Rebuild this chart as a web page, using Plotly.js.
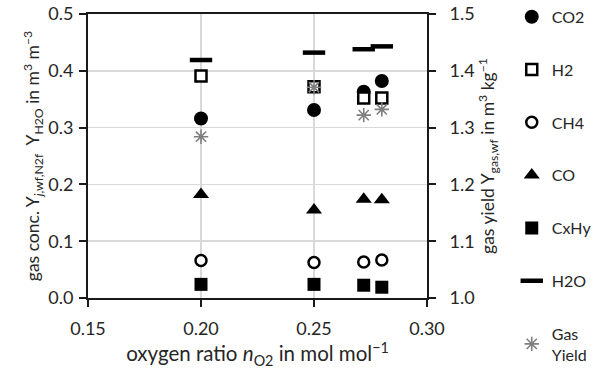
<!DOCTYPE html>
<html>
<head>
<meta charset="utf-8">
<script src="https://cdn.plot.ly/plotly-3.0.1.min.js"></script>
<style>html,body{margin:0;padding:0;background:#fff;}#chart{width:592px;height:376px;}</style>
</head>
<body>
<div id="chart"></div>
<script>
// oxygen ratio n_O2 (mol/mol)
const oxygenRatio = [0.20, 0.25, 0.272, 0.280];
// gas concentrations (m3/m3), left axis
const co2  = [0.316, 0.331, 0.363, 0.382];
const h2   = [0.391, 0.372, 0.352, 0.352];
const ch4  = [0.066, 0.0625, 0.0635, 0.067];
const co   = [0.182, 0.155, 0.174, 0.173];
const cxhy = [0.024, 0.024, 0.0225, 0.019];
const h2o  = [0.419, 0.432, 0.438, 0.443];
// gas yield (m3/kg), right axis
const gasYield = [1.284, 1.371, 1.322, 1.332];

const seriesNames = ['CO2', 'H2', 'CH4', 'CO', 'CxHy', 'H2O', 'Gas<br>Yield'];

const FONT = 'Lato, "Open Sans", sans-serif';
const TXT = '#262626';

function tr(name, y, marker, yaxis) {
  return {
    type: 'scatter', mode: 'markers', name: name, legendgroup: name,
    x: oxygenRatio, y: y, yaxis: yaxis || 'y', marker: marker,
    hoverinfo: 'x+y'
  };
}

const data = [
  tr(seriesNames[0], co2,  {symbol: 'circle', size: 14, color: '#000', line: {width: 0}}),
  tr(seriesNames[1], h2,   {symbol: 'square', size: 11, color: '#fff', line: {width: 2.5, color: '#000'}}),
  tr(seriesNames[2], ch4,  {symbol: 'circle', size: 11, color: '#fff', line: {width: 2.5, color: '#000'}}),
  tr(seriesNames[3], co,   {symbol: 'triangle-up', size: 14, color: '#000', line: {width: 0}}),
  tr(seriesNames[4], cxhy, {symbol: 'square', size: 13, color: '#000', line: {width: 0}}),
  tr(seriesNames[5], h2o,  {symbol: 'line-ew-open', size: 16, color: '#000', line: {width: 4.5, color: '#000'}}),
  tr(seriesNames[6], gasYield, {symbol: 'asterisk-open', size: 12, color: '#7f7f7f', line: {width: 1.6, color: '#7f7f7f'}}, 'y2')
];

const axisCommon = {
  showline: true, linecolor: '#1a1a1a', linewidth: 2,
  ticks: 'outside', ticklen: 7, tickwidth: 2, tickcolor: '#1a1a1a',
  tickfont: {family: FONT, size: 18, color: TXT},
  zeroline: false, automargin: false
};

const layout = {
  width: 592, height: 376,
  margin: {l: 88, r: 165, t: 14, b: 78, autoexpand: false},
  paper_bgcolor: '#fff', plot_bgcolor: '#fff',
  font: {family: FONT, color: TXT},
  showlegend: true,
  legend: {
    x: 1.25, xanchor: 'left', y: 1.05, yanchor: 'top',
    font: {family: FONT, size: 16, color: TXT},
    tracegroupgap: 29, itemwidth: 30, maxheight: 400,
    bgcolor: 'rgba(0,0,0,0)'
  },
  xaxis: Object.assign({}, axisCommon, {
    range: [0.15, 0.30], dtick: 0.05, tick0: 0.15, tickformat: '.2f',
    showgrid: true, gridcolor: '#d9d9d9', gridwidth: 1.5,
    mirror: true, ticklabelstandoff: 6,
    title: {text: 'oxygen ratio <i>n</i><sub>O2</sub> in mol mol<sup>−1</sup>', font: {family: FONT, size: 20.5, color: TXT}, standoff: 9}
  }),
  yaxis: Object.assign({}, axisCommon, {
    range: [0, 0.5], dtick: 0.1, tickformat: '.1f',
    showgrid: true, gridcolor: '#d9d9d9', gridwidth: 1.5,
    ticklabelstandoff: 2,
    title: {text: 'gas conc. Y<sub><i>j</i>,wf,N2f</sub>  Y<sub>H2O</sub> in m<sup>3</sup> m<sup>−3</sup>', font: {family: FONT, size: 17.5, color: TXT}, standoff: 4}
  }),
  yaxis2: Object.assign({}, axisCommon, {
    range: [1.0, 1.5], dtick: 0.1, tickformat: '.1f',
    overlaying: 'y', side: 'right', showgrid: false,
    ticklabelstandoff: 10,
    title: {text: 'gas yield Y<sub>gas,wf</sub> in m<sup>3</sup> kg<sup>−1</sup>', font: {family: FONT, size: 17.5, color: TXT}, standoff: 6}
  })
};

Plotly.newPlot('chart', data, layout, {displayModeBar: false, staticPlot: true});
</script>
</body>
</html>
